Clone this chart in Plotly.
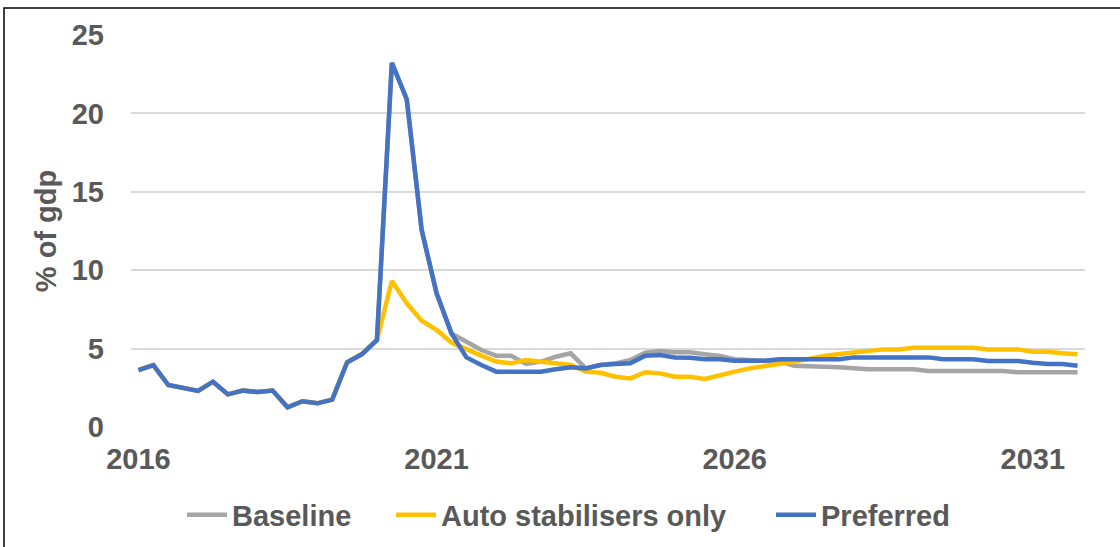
import plotly.graph_objects as go

# Quarterly periods 2016Q1 .. 2031Q4
quarters = [f"{y}Q{q}" for y in range(2016, 2032) for q in range(1, 5)]

tick_vals = ["2016Q1", "2021Q1", "2026Q1", "2031Q1"]
tick_text = ["2016", "2021", "2026", "2031"]

# Deficit, % of GDP
preferred = [
    3.63, 3.95, 2.68, 2.49, 2.30, 2.89, 2.08, 2.32, 2.23, 2.32,
    1.26, 1.64, 1.51, 1.75, 4.13, 4.65, 5.55, 23.23, 20.90, 12.56,
    8.53, 5.97, 4.44, 3.95, 3.53, 3.53, 3.53, 3.53, 3.68, 3.81,
    3.74, 3.95, 4.02, 4.06, 4.55, 4.59, 4.44, 4.42, 4.32, 4.32,
    4.23, 4.23, 4.23, 4.32, 4.32, 4.32, 4.32, 4.32, 4.44, 4.44,
    4.44, 4.44, 4.44, 4.44, 4.32, 4.32, 4.32, 4.21, 4.21, 4.21,
    4.10, 4.02, 4.02, 3.91,
]

baseline = [
    3.63, 3.95, 2.68, 2.49, 2.30, 2.89, 2.08, 2.32, 2.23, 2.32,
    1.26, 1.64, 1.51, 1.75, 4.13, 4.65, 5.55, 23.23, 20.90, 12.56,
    8.53, 5.97, 5.44, 4.91, 4.55, 4.55, 4.02, 4.17, 4.48, 4.70,
    3.74, 3.95, 4.06, 4.27, 4.74, 4.85, 4.76, 4.76, 4.64, 4.53,
    4.32, 4.27, 4.27, 4.17, 3.91, 3.85, 3.85, 3.81, 3.74, 3.68,
    3.68, 3.68, 3.68, 3.57, 3.57, 3.57, 3.57, 3.57, 3.57, 3.49,
    3.49, 3.49, 3.49, 3.49,
]

auto_stabilisers = [
    3.63, 3.95, 2.68, 2.49, 2.30, 2.89, 2.08, 2.32, 2.23, 2.32,
    1.26, 1.64, 1.51, 1.75, 4.13, 4.65, 5.55, 9.31, 7.89, 6.78,
    6.19, 5.38, 4.95, 4.55, 4.17, 4.06, 4.27, 4.17, 4.06, 3.95,
    3.53, 3.46, 3.21, 3.10, 3.49, 3.42, 3.21, 3.21, 3.06, 3.32,
    3.53, 3.74, 3.91, 4.02, 4.17, 4.38, 4.53, 4.66, 4.78, 4.85,
    4.95, 4.95, 5.06, 5.06, 5.06, 5.06, 5.06, 4.95, 4.95, 4.95,
    4.80, 4.80, 4.70, 4.64,
]

series = [
    ("Baseline", baseline, "#A5A5A5"),
    ("Auto stabilisers only", auto_stabilisers, "#FFC000"),
    ("Preferred", preferred, "#4472C4"),
]

TEXT = "#595959"
FONT = "Liberation Sans, Arial, sans-serif"
SIZE = 29
bold = dict(family=FONT, size=SIZE, color=TEXT, weight="bold")

# One legend box per series so each entry sits at its own left position (px)
legend_ids = ["legend", "legend2", "legend3"]
legend_left = [182, 391, 771]

fig = go.Figure()
for (name, values, color), lid in zip(series, legend_ids):
    fig.add_trace(go.Scatter(
        x=quarters, y=values, name=name, mode="lines",
        line=dict(color=color, width=4.5), legend=lid,
    ))

legend_style = dict(
    orientation="h", xanchor="left", xref="container",
    y=(547 - 515) / 547, yanchor="middle", yref="container",
    font=bold, itemwidth=40, bgcolor="rgba(0,0,0,0)",
)

fig.update_layout(
    width=1120, height=547,
    margin=dict(l=131, r=35, t=35, b=120, autoexpand=False),
    paper_bgcolor="white", plot_bgcolor="white",
    font=bold,
    showlegend=True,
    xaxis=dict(
        type="category", categoryorder="array", categoryarray=quarters,
        range=[-0.5, len(quarters) - 0.5],
        tickmode="array", tickvals=tick_vals, ticktext=tick_text,
        showgrid=False, zeroline=False, showline=False, ticks="",
        tickfont=bold, ticklabelstandoff=12,
    ),
    yaxis=dict(
        range=[0, 25], tickmode="array", tickvals=[0, 5, 10, 15, 20, 25],
        showgrid=True, gridcolor="#D9D9D9", gridwidth=1.5,
        zeroline=False, showline=False, ticks="",
        tickfont=bold, ticklabelstandoff=26,
        title=dict(text="% of gdp", standoff=6, font=bold),
    ),
)
for lid, left in zip(legend_ids, legend_left):
    fig.update_layout({lid: dict(legend_style, x=left / 1120)})

# Chart frame (its right and bottom edges run past the page)
fig.add_shape(
    type="rect", xref="paper", yref="paper",
    x0=(4 - 131) / 954, x1=1.2,
    y0=-0.6, y1=(427 - 8) / 392,
    line=dict(color="black", width=1.5), fillcolor="rgba(0,0,0,0)",
    layer="below",
)

fig.write_html("out.html")
